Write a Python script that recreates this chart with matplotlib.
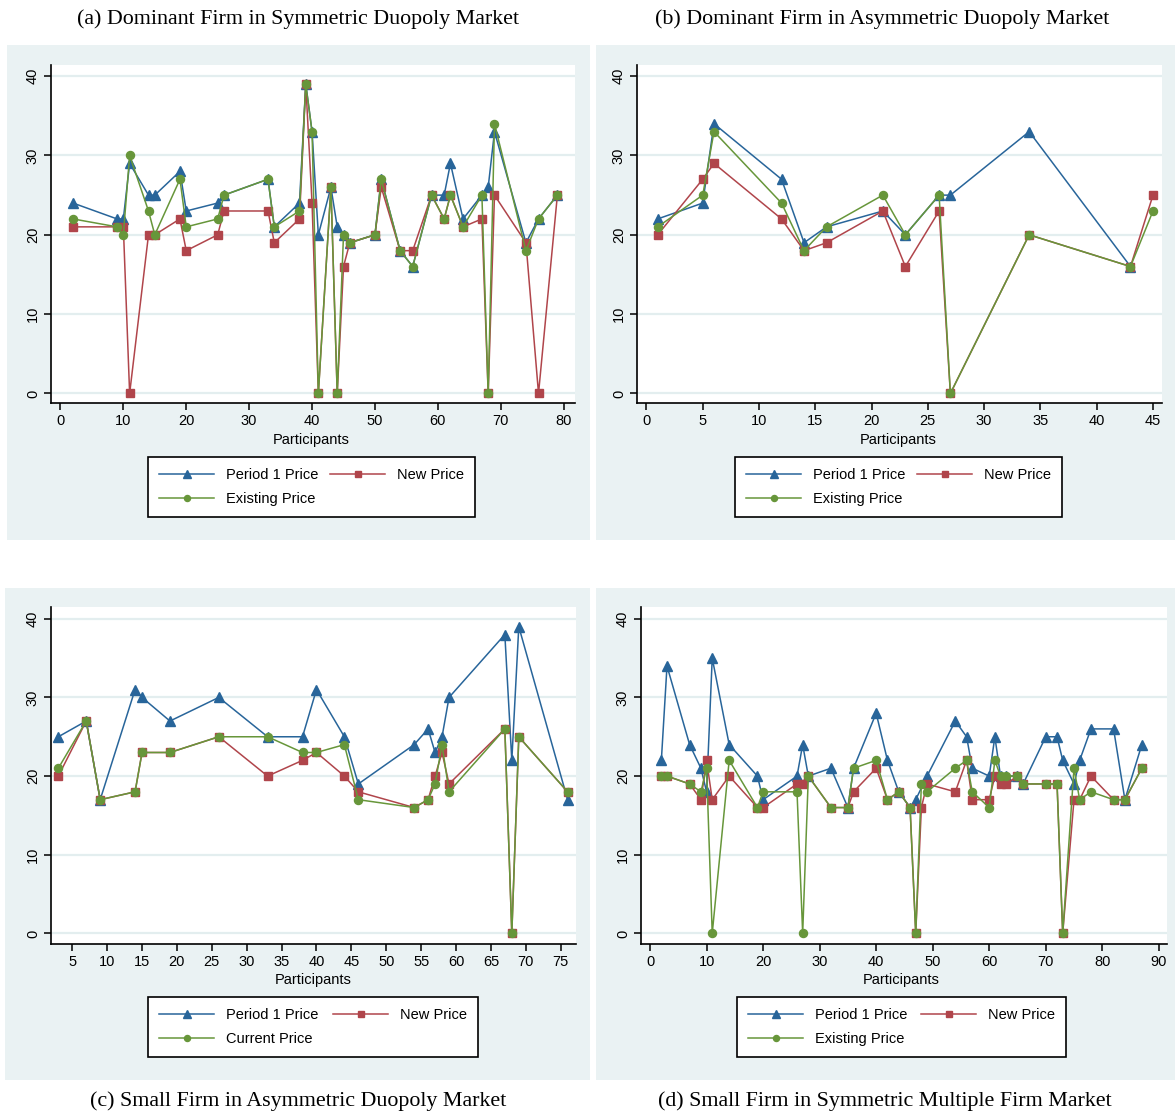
import numpy as np
import matplotlib
matplotlib.use("Agg")
import matplotlib.pyplot as plt
from matplotlib.patches import Rectangle

nan = np.nan

# (a) Dominant Firm in Symmetric Duopoly Market
a_x = [2, 9, 10, 11, 14, 15, 19, 20, 25, 26, 33, 34, 38, 39, 40, 41, 43, 44, 45, 46,
       50, 51, 54, 56, 59, 61, 62, 64, 67, 68, 69, 74, 76, 79]
a_p1 = [24, 22, 22, 29, 25, 25, 28, 23, 24, 25, 27, 21, 24, 39, 33, 20, 26, 21, 20, 19,
        20, 27, 18, 16, 25, 25, 29, 22, 25, 26, 33, 19, 22, 25]
a_new = [21, 21, 21, 0, 20, 20, 22, 18, 20, 23, 23, 19, 22, 39, 24, 0, 26, 0, 16, 19,
         20, 26, 18, 18, 25, 22, 25, 21, 22, 0, 25, 19, 0, 25]
a_old = [22, 21, 20, 30, 23, 20, 27, 21, 22, 25, 27, 21, 23, 39, 33, 0, 26, 0, 20, 19,
         20, 27, 18, 16, 25, 22, 25, 21, 25, 0, 34, 18, 22, 25]

# (b) Dominant Firm in Asymmetric Duopoly Market
b_x = [1, 5, 6, 12, 14, 16, 21, 23, 26, 27, 34, 43, 45]
b_p1 = [22, 24, 34, 27, 19, 21, 23, 20, 25, 25, 33, 16, nan]
b_new = [20, 27, 29, 22, 18, 19, 23, 16, 23, 0, 20, 16, 25]
b_old = [21, 25, 33, 24, 18, 21, 25, 20, 25, 0, 20, 16, 23]

# (c) Small Firm in Asymmetric Duopoly Market
c_x = [3, 7, 9, 14, 15, 19, 26, 33, 38, 40, 44, 46, 54, 56, 57, 58, 59, 67, 68, 69, 76]
c_p1 = [25, 27, 17, 31, 30, 27, 30, 25, 25, 31, 25, 19, 24, 26, 23, 25, 30, 38, 22, 39, 17]
c_new = [20, 27, 17, 18, 23, 23, 25, 20, 22, 23, 20, 18, 16, 17, 20, 23, 19, 26, 0, 25, 18]
c_old = [21, 27, 17, 18, 23, 23, 25, 25, 23, 23, 24, 17, 16, 17, 19, 24, 18, 26, 0, 25, 18]

# (d) Small Firm in Symmetric Multiple Firm Market
d_x = [2, 3, 7, 9, 10, 11, 14, 19, 20, 26, 27, 28, 32, 35, 36, 40, 42, 44, 46, 47,
       48, 49, 54, 56, 57, 60, 61, 62, 63, 65, 66, 70, 72, 73, 75, 76, 78, 82, 84, 87]
d_p1 = [22, 34, 24, 21, 18, 35, 24, 20, 17, 20, 24, 20, 21, 16, 21, 28, 22, 18, 16, 17,
        nan, 20, 27, 25, 21, 20, 25, 20, 20, 20, 19, 25, 25, 22, 19, 22, 26, 26, 17, 24]
d_new = [20, 20, 19, 17, 22, 17, 20, 16, 16, 19, 19, 20, 16, 16, 18, 21, 17, 18, 16, 0,
         16, 19, 18, 22, 17, 17, 20, 19, 19, 20, 19, 19, 19, 0, 17, 17, 20, 17, 17, 21]
d_old = [20, 20, 19, 18, 21, 0, 22, 16, 18, 18, 0, 20, 16, 16, 21, 22, 17, 18, 16, 0,
         19, 18, 21, 22, 18, 16, 22, 20, 20, 20, 19, 19, 19, 0, 21, 17, 18, 17, 17, 21]

W, H = 1175, 1115
BG = "#EAF2F3"
BLUE = "#28659A"
RED = "#B0454B"
GREEN = "#67963A"
SANS = "Liberation Sans"
SERIF = "Liberation Serif"


def fbox(l, t, r, b):
    return [l / W, 1 - b / H, (r - l) / W, (b - t) / H]


fig = plt.figure(figsize=(W / 100, H / 100), dpi=100)
fig.patch.set_facecolor("white")

panels = [
    dict(title="(a) Dominant Firm in Symmetric Duopoly Market", title_xy=(298, 19),
         bg=(7, 45, 590, 540), ax=(51, 65, 575, 403), xlim=(-1.5, 81.8), ylim=(-1.2, 41.4),
         xticks=range(0, 81, 10), x=a_x, s=(a_p1, a_new, a_old),
         lab="Existing Price", xlab_y=440, leg=(148, 458, 475)),
    dict(title="(b) Dominant Firm in Asymmetric Duopoly Market", title_xy=(882, 19),
         bg=(596, 45, 1175, 540), ax=(637, 65, 1162, 403), xlim=(-0.84, 45.8), ylim=(-1.2, 41.4),
         xticks=range(0, 46, 5), x=b_x, s=(b_p1, b_new, b_old),
         lab="Existing Price", xlab_y=440, leg=(735, 458, 1062)),
    dict(title="(c) Small Firm in Asymmetric Duopoly Market", title_xy=(298, 1101),
         bg=(5, 588, 590, 1080), ax=(51, 607, 576, 944), xlim=(1.95, 77.2), ylim=(-1.35, 41.5),
         xticks=range(5, 76, 5), x=c_x, s=(c_p1, c_new, c_old),
         lab="Current Price", xlab_y=980, leg=(148, 998, 478)),
    dict(title="(d) Small Firm in Symmetric Multiple Firm Market", title_xy=(885, 1101),
         bg=(596, 588, 1175, 1080), ax=(641, 607, 1167, 944), xlim=(-1.6, 91.45), ylim=(-1.35, 41.5),
         xticks=range(0, 91, 10), x=d_x, s=(d_p1, d_new, d_old),
         lab="Existing Price", xlab_y=980, leg=(737, 998, 1066)),
]

for p in panels:
    l, t, r, b = p["bg"]
    fig.patches.append(Rectangle((l / W, 1 - b / H), (r - l) / W, (b - t) / H,
                                 transform=fig.transFigure, facecolor=BG,
                                 edgecolor="none", zorder=-5))
    fig.text(p["title_xy"][0] / W, 1 - p["title_xy"][1] / H, p["title"],
             ha="center", va="center", fontsize=15.8, family=SERIF)

    ax = fig.add_axes(fbox(*p["ax"]))
    ax.set_facecolor("white")
    for sp in ("top", "right"):
        ax.spines[sp].set_visible(False)
    for sp in ("left", "bottom"):
        ax.spines[sp].set_linewidth(1.2)
        ax.spines[sp].set_color("black")

    ax.set_xlim(*p["xlim"])
    ax.set_ylim(*p["ylim"])
    ax.set_xticks(list(p["xticks"]))
    ax.set_yticks([0, 10, 20, 30, 40])
    ax.yaxis.grid(True, color="#E3EEEF", linewidth=1.6)
    ax.set_axisbelow(True)
    ax.tick_params(axis="both", direction="out", length=5, width=1.1,
                   labelsize=10.5, pad=3)
    for lbl in ax.get_xticklabels() + ax.get_yticklabels():
        lbl.set_family(SANS)
    for lbl in ax.get_yticklabels():
        lbl.set_rotation(90)
        lbl.set_va("center")

    x = np.array(p["x"], dtype=float)
    names = ["Period 1 Price", "New Price", p["lab"]]
    styles = [(BLUE, "^", 6.8), (RED, "s", 5.8), (GREEN, "o", 5.8)]
    handles = []
    for vals, name, (col, mk, ms) in zip(p["s"], names, styles):
        y = np.array(vals, dtype=float)
        m = ~np.isnan(y)
        h, = ax.plot(x[m], y[m], color=col, marker=mk, markersize=ms,
                     linewidth=1.1, label=name, clip_on=False)
        handles.append(h)

    fig.text(((p["leg"][0] + p["leg"][2]) / 2) / W, 1 - p["xlab_y"] / H, "Participants",
             ha="center", va="center", fontsize=10.5, family=SANS)

    ll, lt, lr = p["leg"]
    leg = ax.legend([handles[0], handles[2], handles[1]],
                    [names[0], names[2], names[1]],
                    ncol=2, loc="upper left", mode="expand",
                    bbox_to_anchor=(ll / W, 1 - lt / H, (lr - ll) / W, 0.001),
                    bbox_transform=fig.transFigure, frameon=True, fancybox=False,
                    edgecolor="black", framealpha=1, borderaxespad=0,
                    prop={"family": SANS, "size": 10.5}, handlelength=3.8,
                    borderpad=0.75, labelspacing=0.7, columnspacing=1.5,
                    handletextpad=0.8, markerscale=0.75)
    leg.get_frame().set_linewidth(1.2)

fig.savefig("out.png", dpi=100)
